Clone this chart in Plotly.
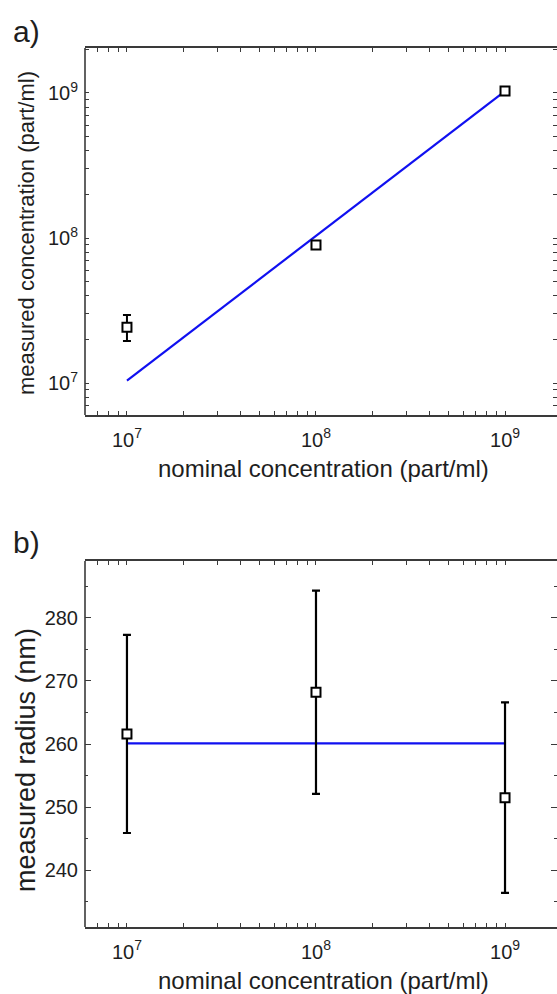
import numpy as np
import plotly.graph_objects as go

# ---- data ----
nominal = [1e7, 1e8, 1e9]

# panel a: measured concentration (part/ml)
conc_measured = [2.43e7, 8.96e7, 1.03e9]
conc_err_plus = [0.52e7, 0.35e7, 0.05e9]
conc_err_minus = [0.48e7, 0.35e7, 0.05e9]
conc_fit_x = [1e7, 1e9]
conc_fit_y = [1.04e7, 1.03e9]

# panel b: measured radius (nm)
radius_measured = [261.6, 268.2, 251.5]
radius_err = [15.7, 16.1, 15.1]
radius_fit_x = [1e7, 1e9]
radius_fit_y = [260.1, 260.1]

# log tick positions: decades (labelled) and 2..9 x 10^k (unlabelled)
decades = [6, 7, 8, 9]
log_tickvals = []
log_ticktext = []
for k in decades:
    for m in range(1, 10):
        log_tickvals.append(m * 10.0 ** k)
        log_ticktext.append(f"10<sup>{k}</sup>" if m == 1 else "")

# ---- layout geometry ----
W, H = 557, 994
L, R, T, B = 85, 0, 48, 67
PW, PH = W - L - R, H - T - B


def px(xp):
    return (xp - L) / PW


def py(yp):
    return (H - B - yp) / PH


top_dom = [py(415), 1.0]
bot_dom = [0.0, py(561)]

AX = "#3a3a3a"
TXT = "#1e1e1e"
FONT = "Liberation Sans, Arial, sans-serif"
BLUE = "#1010f0"

XR = [6.778, 9.275]
YR_A = [6.78, 9.31]
YR_B = [231, 289]

fig = go.Figure()

fig.add_trace(go.Scatter(
    x=conc_fit_x, y=conc_fit_y, mode="lines",
    line=dict(color=BLUE, width=2.2), xaxis="x", yaxis="y", showlegend=False))
fig.add_trace(go.Scatter(
    x=nominal, y=conc_measured, mode="markers",
    marker=dict(symbol="square", size=9, color="white", line=dict(color="black", width=2)),
    error_y=dict(type="data", array=conc_err_plus, arrayminus=conc_err_minus,
                 color="black", thickness=2, width=4),
    xaxis="x", yaxis="y", showlegend=False))

fig.add_trace(go.Scatter(
    x=radius_fit_x, y=radius_fit_y, mode="lines",
    line=dict(color=BLUE, width=2.2), xaxis="x2", yaxis="y2", showlegend=False))
fig.add_trace(go.Scatter(
    x=nominal, y=radius_measured, mode="markers",
    marker=dict(symbol="square", size=9, color="white", line=dict(color="black", width=2)),
    error_y=dict(type="data", array=radius_err, color="black", thickness=2.2, width=4),
    xaxis="x2", yaxis="y2", showlegend=False))

tick_common = dict(showgrid=False, zeroline=False, tickcolor=AX,
                   tickfont=dict(family=FONT, size=20, color=TXT))

log_ticks = dict(type="log", tickmode="array", tickvals=log_tickvals, ticktext=log_ticktext,
                 ticks="inside", ticklen=4, tickwidth=1.3, ticklabelstandoff=6, mirror="ticks")

major_x = dict(range=XR, showline=True, linecolor=AX, linewidth=1.6,
               **log_ticks, **tick_common)

fig.update_layout(
    width=W, height=H,
    margin=dict(l=L, r=R, t=T, b=B),
    paper_bgcolor="white", plot_bgcolor="white",
    font=dict(family=FONT, color=TXT),
    xaxis=dict(domain=[0, 1], anchor="y", **major_x),
    yaxis=dict(domain=top_dom, anchor="x", range=YR_A, showline=False,
               **log_ticks, **tick_common),
    xaxis2=dict(domain=[0, 1], anchor="y2", **major_x),
    yaxis2=dict(domain=bot_dom, anchor="x2", range=YR_B, dtick=10,
                showline=False, mirror="ticks",
                ticks="inside", ticklen=6, tickwidth=1.4, ticklabelstandoff=6,
                minor=dict(ticks="inside", ticklen=3, tickcolor=AX, tickwidth=1.2,
                           dtick=5, showgrid=False),
                **tick_common),
)

# left frame lines (right side of frame lies outside the picture)
for xd, yd in [("x", "y"), ("x2", "y2")]:
    fig.add_shape(type="line", xref=f"{xd} domain", yref=f"{yd} domain",
                  x0=0, x1=0, y0=0, y1=1, line=dict(color=AX, width=1.6))

ann = []
ann.append(dict(text="a)", x=px(11), y=py(31), xanchor="left", yanchor="middle",
                font=dict(size=30, family=FONT, color=TXT)))
ann.append(dict(text="b)", x=px(11), y=py(542), xanchor="left", yanchor="middle",
                font=dict(size=30, family=FONT, color=TXT)))
ann.append(dict(text="nominal concentration (part/ml)", x=px(323), y=py(469),
                xanchor="center", yanchor="middle", font=dict(size=24, family=FONT, color=TXT)))
ann.append(dict(text="nominal concentration (part/ml)", x=px(323), y=py(980),
                xanchor="center", yanchor="middle", font=dict(size=24, family=FONT, color=TXT)))
ann.append(dict(text="measured concentration (part/ml)", x=px(26), y=py(233), textangle=-90,
                xanchor="center", yanchor="middle", font=dict(size=22, family=FONT, color=TXT)))
ann.append(dict(text="measured radius (nm)", x=px(26), y=py(760), textangle=-90,
                xanchor="center", yanchor="middle", font=dict(size=27, family=FONT, color=TXT)))
for a in ann:
    a.update(xref="paper", yref="paper", showarrow=False)
fig.update_layout(annotations=ann)

fig.write_html("out.html")
